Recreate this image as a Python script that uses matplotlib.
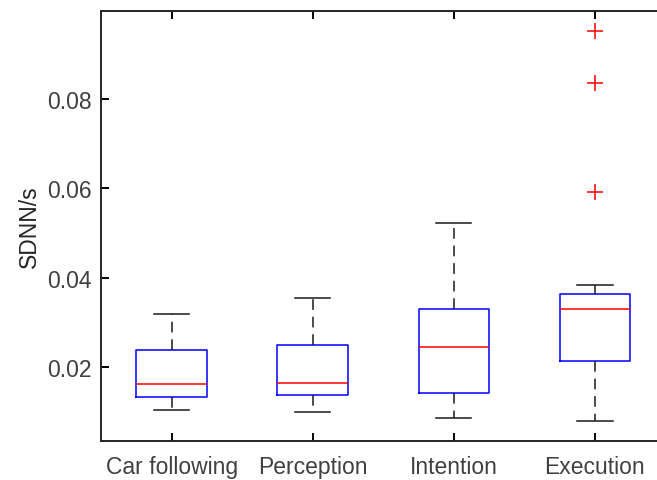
import matplotlib
matplotlib.use("Agg")
import matplotlib.pyplot as plt

categories = ["Car following", "Perception", "Intention", "Execution"]
whislo = [0.01030, 0.00993, 0.00858, 0.00791]
q1 = [0.01321, 0.01366, 0.01418, 0.02134]
med = [0.01612, 0.01642, 0.02448, 0.03298]
q3 = [0.02374, 0.02493, 0.03306, 0.03627]
whishi = [0.03187, 0.03545, 0.05231, 0.03829]
fliers = [[], [], [], [0.09515, 0.08351, 0.05925]]
yticks = [0.02, 0.04, 0.06, 0.08]
ytick_labels = ["0.02", "0.04", "0.06", "0.08"]

plt.rcParams['font.family'] = ['Liberation Sans', 'DejaVu Sans']
W, H = 657, 481
fig = plt.figure(figsize=(W / 100, H / 100), dpi=100)
ax = fig.add_axes([101 / W, 1 - 442 / H, (665.5 - 101) / W, (442 - 12) / H])

stats = []
for i, c in enumerate(categories):
    stats.append(dict(label=c, whislo=whislo[i], q1=q1[i], med=med[i], q3=q3[i],
                      whishi=whishi[i], fliers=fliers[i]))

ax.bxp(stats, positions=range(1, len(categories) + 1), widths=0.5,
       boxprops=dict(color='#0000ff', linewidth=1.1),
       medianprops=dict(color='#ff0000', linewidth=1.1),
       whiskerprops=dict(color='#1a1a1a', linewidth=1.1, linestyle=(0, (7, 4.5))),
       capprops=dict(color='#1a1a1a', linewidth=1.1),
       capwidths=0.25,
       flierprops=dict(marker='+', markeredgecolor='#ff0000', markersize=11,
                       markeredgewidth=1.1, linestyle='none'),
       manage_ticks=False)

ax.set_xlim(0.5, 4.5)
ax.set_ylim(0.00343, 0.0997)
ax.set_xticks(range(1, len(categories) + 1))
ax.set_xticklabels(categories)
ax.set_yticks(yticks)
ax.set_yticklabels(ytick_labels)
ax.tick_params(direction='in', length=5.5, width=1.4, labelsize=16.5,
               labelcolor='#404040', top=True, right=False)
ax.tick_params(axis='x', pad=10)
ax.tick_params(axis='y', pad=7)
for s in ax.spines.values():
    s.set_linewidth(1.4)
    s.set_color('#262626')
ax.set_ylabel("SDNN/s", fontsize=16.5, color='#262626', labelpad=4)

fig.savefig("out.png", dpi=100)
